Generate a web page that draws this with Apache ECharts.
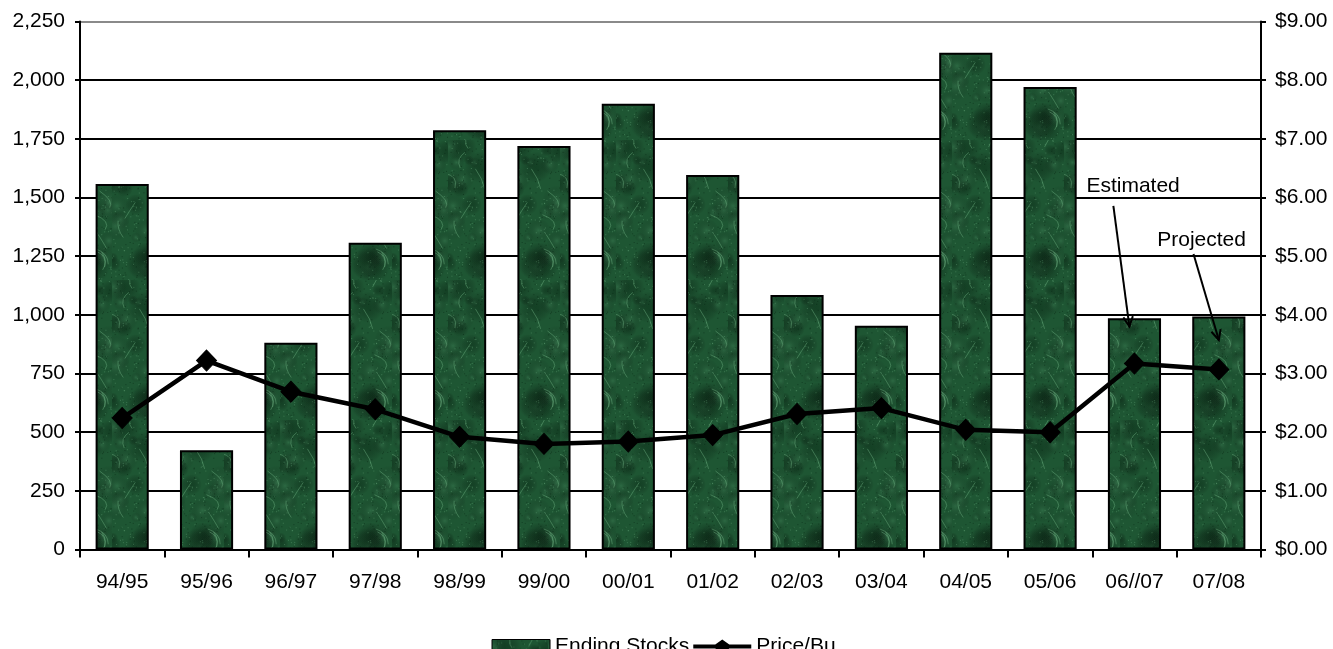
<!DOCTYPE html>
<html>
<head>
<meta charset="utf-8">
<script src="https://cdn.jsdelivr.net/npm/echarts@6/dist/echarts.min.js"></script>
<style>
html,body{margin:0;padding:0;background:#fff;}
#chart{width:1333px;height:649px;}
</style>
</head>
<body>
<div id="chart"></div>
<script>
// ---- data ----
const categories = ['94/95','95/96','96/97','97/98','98/99','99/00','00/01','01/02','02/03','03/04','04/05','05/06','06//07','07/08'];
const endingStocks = [1558, 423, 881, 1307, 1787, 1719, 1899, 1596, 1084, 954, 2117, 1971, 985, 993];
const pricePerBu = [2.24, 3.22, 2.69, 2.39, 1.92, 1.80, 1.84, 1.95, 2.31, 2.41, 2.04, 2.00, 3.17, 3.07];
const leftTicks = {min: 0, max: 2250, interval: 250};
const rightTicks = {min: 0, max: 9, interval: 1};
const annotations = [
  {text: 'Estimated', cat: 12},
  {text: 'Projected', cat: 13}
];

// ---- marble-like texture for the bars (decorative only) ----
function makeTexture() {
  const c = document.createElement('canvas');
  c.width = 56; c.height = 140;
  const g = c.getContext('2d');
  g.fillStyle = '#1e5633';
  g.fillRect(0, 0, c.width, c.height);
  let s = 987654;
  const rnd = () => { s = (s * 16807) % 2147483647; return s / 2147483647; };
  for (let i = 0; i < 34; i++) {
    const x = rnd() * c.width, y = rnd() * c.height, r = 5 + rnd() * 12;
    const dark = rnd() < 0.5;
    const gr = g.createRadialGradient(x, y, 0, x, y, r);
    gr.addColorStop(0, dark ? 'rgba(8,40,20,0.45)' : 'rgba(70,140,95,0.35)');
    gr.addColorStop(1, 'rgba(0,0,0,0)');
    g.fillStyle = gr;
    g.fillRect(x - r, y - r, 2 * r, 2 * r);
  }
  g.strokeStyle = 'rgba(120,190,140,0.4)';
  g.lineWidth = 1;
  for (let i = 0; i < 14; i++) {
    const x = rnd() * c.width, y = rnd() * c.height;
    g.beginPath();
    g.moveTo(x, y);
    g.quadraticCurveTo(x + 8 - rnd() * 16, y - 6 - rnd() * 8, x + 14 - rnd() * 28, y - 14 - rnd() * 6);
    g.stroke();
  }
  for (let i = 0; i < 300; i++) {
    const x = rnd() * c.width, y = rnd() * c.height;
    g.fillStyle = rnd() < 0.5 ? 'rgba(120,190,140,0.35)' : 'rgba(5,30,15,0.4)';
    g.fillRect(x, y, 1, 1);
  }
  return c;
}

const FONT = 'Liberation Sans, Arial, sans-serif';
const FS = 21;
const chart = echarts.init(document.getElementById('chart'), null, {renderer: 'canvas'});
const texture = makeTexture();

const splitColors = [];
for (let v = leftTicks.min; v <= leftTicks.max; v += leftTicks.interval) {
  splitColors.push(v === leftTicks.max ? '#8a8a8a' : '#000');
}

const lineLegendIcon = 'path://M0,5 L22,5 L29,0 L36,5 L58,5 L58,9 L36,9 L29,14 L22,9 L0,9 Z';

chart.setOption({
  animation: false,
  backgroundColor: '#fff',
  textStyle: {fontFamily: FONT, color: '#000'},
  grid: {left: 80, right: 72, top: 21.5, bottom: 99.5, containLabel: false},
  legend: {
    top: 631, left: 'center',
    itemWidth: 58, itemHeight: 14, itemGap: 4,
    symbolKeepAspect: false,
    textStyle: {fontFamily: FONT, fontSize: FS, color: '#000'},
    data: [
      {name: 'Ending Stocks', icon: 'rect', itemStyle: {borderColor: '#000', borderWidth: 1}},
      {name: 'Price/Bu.', icon: lineLegendIcon, itemStyle: {color: '#000', borderWidth: 0}}
    ]
  },
  xAxis: {
    type: 'category',
    data: categories,
    boundaryGap: true,
    axisLine: {lineStyle: {color: '#000', width: 2}},
    axisTick: {show: true, alignWithLabel: false, length: 8, lineStyle: {color: '#000', width: 2}},
    axisLabel: {fontFamily: FONT, fontSize: FS, color: '#000', margin: 22, interval: 0},
    splitLine: {show: false}
  },
  yAxis: [
    {
      type: 'value', position: 'left',
      min: leftTicks.min, max: leftTicks.max, interval: leftTicks.interval,
      axisLine: {show: true, lineStyle: {color: '#000', width: 2}},
      axisTick: {show: true, length: 5, lineStyle: {color: '#000', width: 2}},
      axisLabel: {fontFamily: FONT, fontSize: FS, color: '#000', margin: 15,
        formatter: v => v.toLocaleString('en-US')},
      splitLine: {show: true, lineStyle: {color: splitColors, width: 2}}
    },
    {
      type: 'value', position: 'right',
      min: rightTicks.min, max: rightTicks.max, interval: rightTicks.interval,
      axisLine: {show: true, lineStyle: {color: '#000', width: 2}},
      axisTick: {show: true, length: 5, lineStyle: {color: '#000', width: 2}},
      axisLabel: {fontFamily: FONT, fontSize: FS, color: '#000', margin: 14,
        formatter: v => '$' + v.toFixed(2)},
      splitLine: {show: false}
    }
  ],
  series: [
    {
      name: 'Ending Stocks', type: 'bar', yAxisIndex: 0,
      data: endingStocks, barWidth: '63%',
      itemStyle: {color: {image: texture, repeat: 'repeat'}, borderColor: '#000', borderWidth: 2}
    },
    {
      name: 'Price/Bu.', type: 'line', yAxisIndex: 1,
      data: pricePerBu,
      symbol: 'diamond', symbolSize: [20, 21],
      lineStyle: {color: '#000', width: 4.5},
      itemStyle: {color: '#000', borderColor: '#000'},
      z: 5
    }
  ]
});

// ---- annotations with arrows, positioned through the axes ----
function px(cat, val) { return chart.convertToPixel({xAxisIndex: 0, yAxisIndex: 0}, [cat, val]); }
const band = px(1, 0)[0] - px(0, 0)[0];
const annoLayout = [
  {textOff: -0.57, textVal: 1547, tailOff: -0.25, tailVal: 1464, tipOff: -0.06, tipVal: 950},
  {textOff: -0.73, textVal: 1319, tailOff: -0.30, tailVal: 1259, tipOff: 0.0, tipVal: 893}
];
const graphics = [];
annotations.forEach((a, i) => {
  const L = annoLayout[i];
  const tp = px(a.cat, L.textVal);
  graphics.push({
    type: 'text', x: tp[0] + L.textOff * band, y: tp[1], z: 20,
    style: {text: a.text, font: FS + 'px ' + FONT, fill: '#000', textVerticalAlign: 'middle', textAlign: 'left'}
  });
  const t0 = px(a.cat, L.tailVal), t1 = px(a.cat, L.tipVal);
  const x0 = t0[0] + L.tailOff * band, y0 = t0[1];
  const x1 = t1[0] + L.tipOff * band, y1 = t1[1];
  graphics.push({type: 'line', z: 20, shape: {x1: x0, y1: y0, x2: x1, y2: y1}, style: {stroke: '#000', lineWidth: 2}});
  const ang = Math.atan2(y1 - y0, x1 - x0), hl = 11, ha = 0.45;
  graphics.push({
    type: 'polyline', z: 20,
    shape: {points: [
      [x1 - hl * Math.cos(ang - ha), y1 - hl * Math.sin(ang - ha)],
      [x1, y1],
      [x1 - hl * Math.cos(ang + ha), y1 - hl * Math.sin(ang + ha)]
    ]},
    style: {stroke: '#000', lineWidth: 2, fill: null}
  });
});
chart.setOption({graphic: graphics});
</script>
</body>
</html>
